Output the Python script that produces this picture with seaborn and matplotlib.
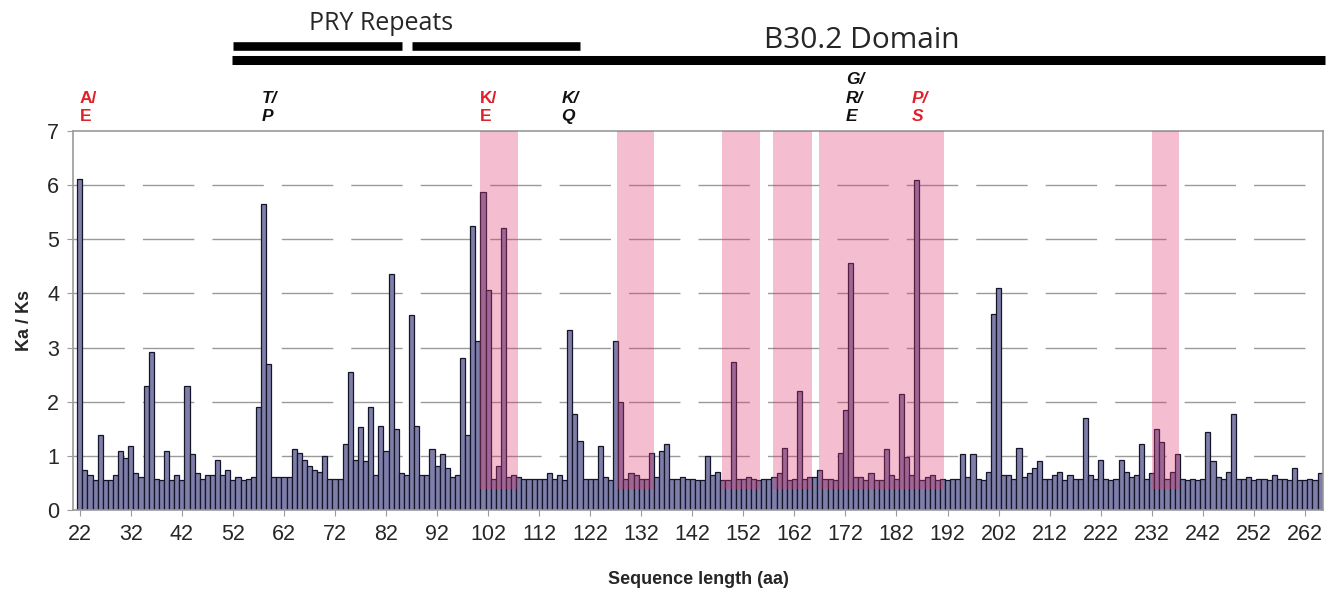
import numpy as np
import pandas as pd
import matplotlib
matplotlib.use("Agg")
import matplotlib.pyplot as plt
import matplotlib.transforms as mtransforms
import seaborn as sns

# DATA

residues = list(range(22, 266))
ka_ks = [
    6.12, 0.74, 0.65, 0.55, 1.38, 0.55, 0.55, 0.65, 1.09, 0.96,   # 22-31
    1.19, 0.68, 0.61, 2.29, 2.92, 0.58, 0.55, 1.09, 0.55, 0.65,   # 32-41
    0.55, 2.29, 1.03, 0.68, 0.58, 0.65, 0.65, 0.93, 0.65, 0.74,   # 42-51
    0.55, 0.61, 0.55, 0.58, 0.61, 1.91, 5.65, 2.70, 0.61, 0.61,   # 52-61
    0.61, 0.61, 1.13, 1.05, 0.93, 0.81, 0.74, 0.71, 1.00, 0.58,   # 62-71
    0.58, 0.58, 1.22, 2.55, 0.93, 1.53, 0.90, 1.91, 0.65, 1.56,   # 72-81
    1.09, 4.35, 1.50, 0.68, 0.65, 3.60, 1.56, 0.65, 0.65, 1.13,   # 82-91
    0.81, 1.03, 0.78, 0.61, 0.65, 2.80, 1.38, 5.24, 3.12, 5.87,   # 92-101
    4.06, 0.58, 0.81, 5.21, 0.61, 0.65, 0.61, 0.58, 0.58, 0.58,   # 102-111
    0.58, 0.58, 0.68, 0.58, 0.65, 0.55, 3.33, 1.78, 1.28, 0.58,   # 112-121
    0.58, 0.58, 1.19, 0.61, 0.55, 3.12, 2.00, 0.58, 0.68, 0.65,   # 122-131
    0.58, 0.58, 1.06, 0.61, 1.09, 1.22, 0.58, 0.58, 0.61, 0.58,   # 132-141
    0.58, 0.55, 0.55, 1.00, 0.65, 0.71, 0.55, 0.55, 2.74, 0.58,   # 142-151
    0.58, 0.61, 0.58, 0.55, 0.58, 0.58, 0.61, 0.68, 1.15, 0.55,   # 152-161
    0.58, 2.20, 0.58, 0.61, 0.61, 0.74, 0.58, 0.58, 0.55, 1.06,   # 162-171
    1.85, 4.57, 0.61, 0.61, 0.55, 0.68, 0.55, 0.55, 1.12, 0.65,   # 172-181
    0.58, 2.14, 0.97, 0.65, 6.09, 0.55, 0.61, 0.65, 0.55, 0.58,   # 182-191
    0.55, 0.58, 0.58, 1.03, 0.61, 1.03, 0.58, 0.55, 0.71, 3.62,   # 192-201
    4.10, 0.65, 0.65, 0.58, 1.15, 0.61, 0.68, 0.78, 0.90, 0.58,   # 202-211
    0.58, 0.65, 0.71, 0.55, 0.65, 0.58, 0.58, 1.69, 0.65, 0.58,   # 212-221
    0.93, 0.58, 0.55, 0.58, 0.93, 0.71, 0.61, 0.65, 1.22, 0.58,   # 222-231
    0.68, 1.50, 1.25, 0.58, 0.71, 1.03, 0.58, 0.55, 0.58, 0.55,   # 232-241
    0.58, 1.44, 0.90, 0.61, 0.58, 0.71, 1.78, 0.58, 0.58, 0.61,   # 242-251
    0.55, 0.58, 0.58, 0.55, 0.65, 0.58, 0.58, 0.55, 0.78, 0.55,   # 252-261
    0.55, 0.58, 0.55, 0.68,                                       # 262-265
]

# shaded regions (residue start, end) and the level they start at
shade_regions = [(100.4, 107.9), (127.2, 134.5), (147.9, 155.2),
                 (157.8, 165.4), (166.8, 191.3), (232.0, 237.3)]
shade_floor = 0.38

# domain annotations
pry_repeats = [(52.0, 85.1), (87.0, 120.0)]
pry_label_pos = 81.0
b302_domain = (51.8, 266.0)
b302_label_pos = 175.2

# substitution labels (residue, text, red?, italic?)
sub_labels = [(22.0, "A/\nE", True, False),
              (57.7, "T/\nP", False, True),
              (100.4, "K/\nE", True, False),
              (116.4, "K/\nQ", False, True),
              (172.1, "G/\nR/\nE", False, True),
              (185.0, "P/\nS", True, True)]

xtick_values = list(range(22, 263, 10))
ytick_values = list(range(0, 8))

# PLOT

df = pd.DataFrame({"residue": residues, "kaks": ka_ks})

sns.set_style("white")
plt.rcParams["font.family"] = ["Liberation Sans", "DejaVu Sans"]

fig = plt.figure(figsize=(13.37, 5.94), dpi=100)
ax = fig.add_axes([0.0547, 0.1414, 0.9348, 0.6381])

# grid (broken long dashes like the original)
for yv in ytick_values[1:-1]:
    ax.axhline(yv, color="#9a9a9a", lw=1.0, ls=(0, (37, 13)), zorder=0)

sns.barplot(data=df, x="residue", y="kaks", native_scale=True, width=1.0,
            color="#7e7ea8", saturation=1, edgecolor="#15152a", linewidth=0.9,
            errorbar=None, ax=ax, zorder=2)

ax.set_xlim(20.7, 265.55)
ax.set_ylim(0, 7)

# pink shading on top of the bars
for lo, hi in shade_regions:
    ax.axvspan(lo, hi, ymin=shade_floor / 7, ymax=1, color="#e0346d",
               alpha=0.32, lw=0, zorder=3)

# axes styling
for s in ax.spines.values():
    s.set_color("#9a9a9a")
    s.set_linewidth(1.2)
ax.set_xticks(xtick_values)
ax.set_xticklabels([str(v) for v in xtick_values],
                   fontsize=15.5, family=["Liberation Sans Narrow", "Liberation Sans"])
ax.set_yticks(ytick_values)
ax.set_yticklabels([str(v) for v in ytick_values], fontsize=15.5)
ax.tick_params(axis="both", direction="out", length=4, color="#9a9a9a",
               bottom=True, left=True, pad=6)
ax.set_xlabel("Sequence length (aa)", fontsize=13, fontweight="bold", labelpad=19)
ax.set_ylabel("Ka / Ks", fontsize=13, fontweight="bold", labelpad=10)

# annotations above the plot
trans = mtransforms.blended_transform_factory(ax.transData, ax.transAxes)
for lo, hi in pry_repeats:
    ax.plot([lo, hi], [1.224, 1.224], color="black", lw=6.2,
            solid_capstyle="butt", transform=trans, clip_on=False)
ax.plot(list(b302_domain), [1.187, 1.187], color="black", lw=6.5,
        solid_capstyle="butt", transform=trans, clip_on=False)
ax.text(pry_label_pos, 1.283, "PRY Repeats",
        transform=trans, ha="center", va="center", fontsize=18,
        family=["Open Sans", "DejaVu Sans"])
ax.text(b302_label_pos, 1.24, "B30.2 Domain", transform=trans, ha="center",
        va="center", fontsize=21.5, family=["Open Sans", "DejaVu Sans"])

for pos, txt, red, ital in sub_labels:
    ax.text(pos, 1.018, txt, transform=trans, ha="left", va="bottom",
            fontsize=12.5, fontweight="bold",
            fontstyle="italic" if ital else "normal",
            color="#e0202a" if red else "#111111", linespacing=1.3)

fig.savefig("out.png", dpi=100)
